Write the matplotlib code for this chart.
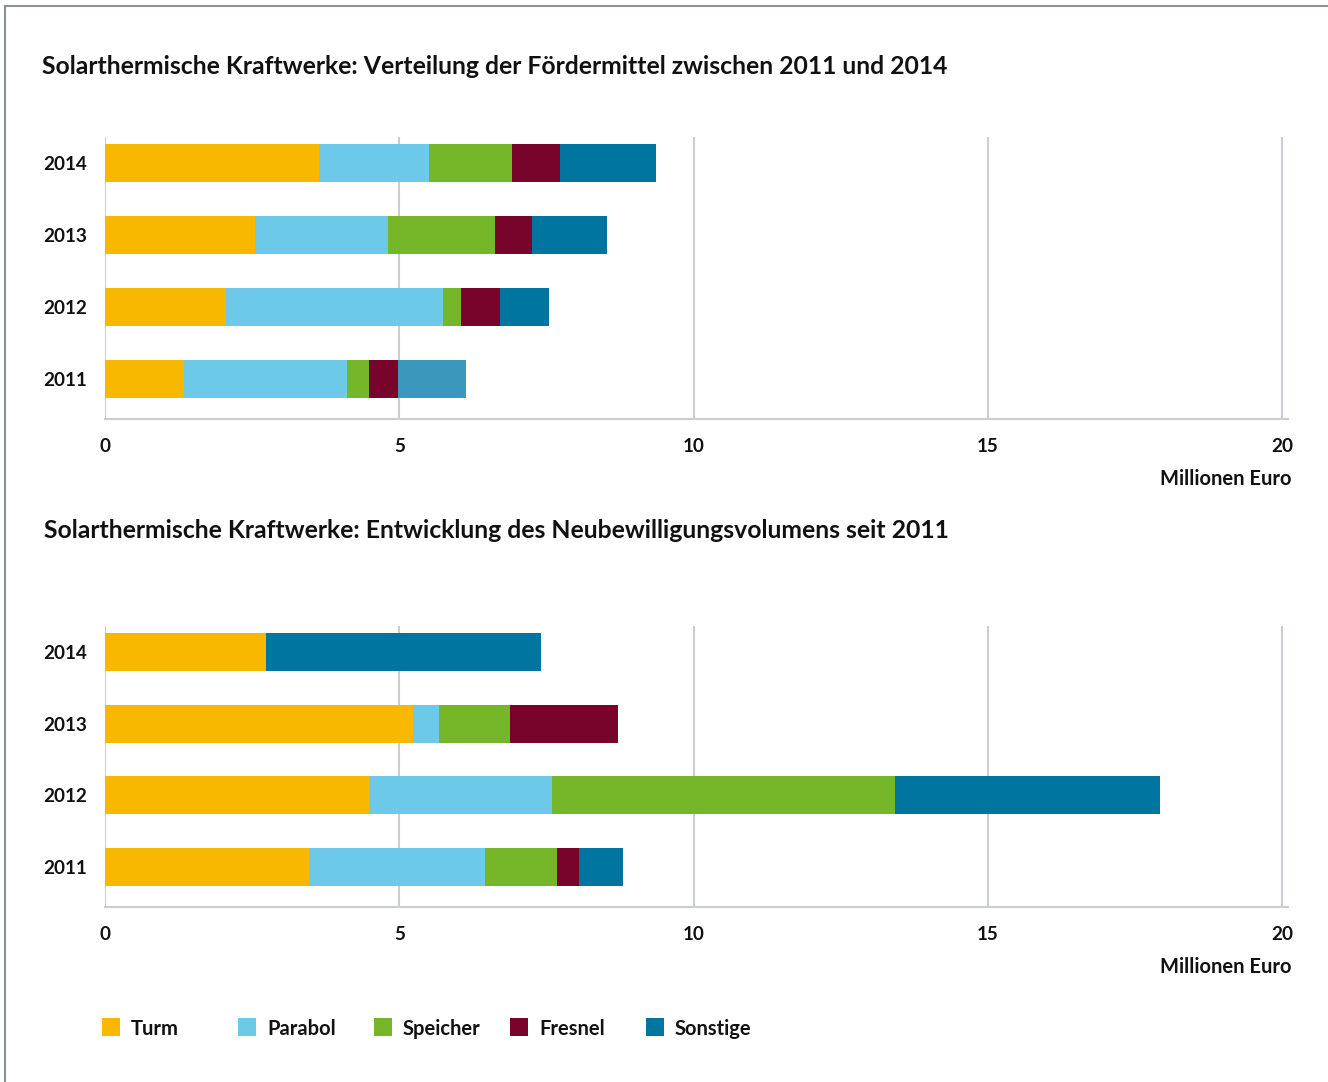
import matplotlib
matplotlib.use("Agg")
import matplotlib.pyplot as plt
import matplotlib.patches as mpatches
from matplotlib import font_manager as fm
import numpy as np

years = ["2011", "2012", "2013", "2014"]
categories = ["Turm", "Parabol", "Speicher", "Fresnel", "Sonstige"]
colors = ["#F9B800", "#6DC9E8", "#76B72A", "#78042B", "#00759F"]

# Verteilung der Fördermittel (Mio. Euro), per year 2011..2014
foerder_turm = [1.34, 2.06, 2.55, 3.64]
foerder_parabol = [2.77, 3.68, 2.26, 1.87]
foerder_speicher = [0.38, 0.31, 1.82, 1.41]
foerder_fresnel = [0.49, 0.66, 0.63, 0.81]
foerder_sonstige = [1.15, 0.83, 1.27, 1.63]

# Neubewilligungsvolumen (Mio. Euro)
neu_turm = [3.47, 4.49, 5.23, 2.74]
neu_parabol = [2.99, 3.11, 0.45, 0.0]
neu_speicher = [1.22, 5.82, 1.20, 0.0]
neu_fresnel = [0.37, 0.0, 1.84, 0.0]
neu_sonstige = [0.75, 4.51, 0.0, 4.67]


# pick a static bold file directly (variable fonts ignore weight)
def bold_font():
    for fam in ["Lato", "Open Sans", "Roboto", "Liberation Sans"]:
        for f in fm.fontManager.ttflist:
            if f.name == fam and f.weight == 700 and f.style == "normal" and "[" not in f.fname:
                return f.fname
    return None


BOLD = bold_font()


def fp(size):
    if BOLD:
        return fm.FontProperties(fname=BOLD, size=size)
    return fm.FontProperties(family="DejaVu Sans", weight="bold", size=size)


W, H = 1328, 1082
fig = plt.figure(figsize=(W / 100, H / 100), dpi=100)
grid_c = "#c9ced3"
tc = "#111111"


def draw(ax_rect, series, special=None):
    ax = fig.add_axes(ax_rect)
    y = np.arange(len(years))
    left = np.zeros(len(years))
    for k, (vals, c) in enumerate(zip(series, colors)):
        cols = [c] * len(years)
        if special and k in special:
            for i, cc in special[k].items():
                cols[i] = cc
        ax.barh(y, vals, left=left, height=0.53, color=cols, linewidth=0, zorder=3)
        left += np.array(vals)
    ax.set_xlim(0, 20.1)
    ax.set_ylim(-0.556, 3.361)
    ax.set_xticks([0, 5, 10, 15, 20])
    ax.set_yticks(y)
    ax.set_yticklabels(years)
    ax.grid(axis="x", color=grid_c, linewidth=1.5, zorder=0)
    for s in ["top", "right", "left"]:
        ax.spines[s].set_visible(False)
    ax.spines["bottom"].set_color(grid_c)
    ax.spines["bottom"].set_linewidth(1.5)
    ax.tick_params(length=0, colors=tc)
    ax.tick_params(axis="x", pad=14)
    ax.tick_params(axis="y", pad=13)
    for lab in ax.get_xticklabels() + ax.get_yticklabels():
        lab.set_fontproperties(fp(13.6))
    return ax


def rect(top_px, bottom_px):
    l = 105 / W
    w = (1288 - 105) / W
    b = 1 - bottom_px / H
    h = (bottom_px - top_px) / H
    return [l, b, w, h]


draw(rect(137, 419),
     [foerder_turm, foerder_parabol, foerder_speicher, foerder_fresnel, foerder_sonstige],
     special={4: {0: "#3A98BD"}})
draw(rect(626, 907),
     [neu_turm, neu_parabol, neu_speicher, neu_fresnel, neu_sonstige])

fig.text(42 / W, 1 - 66 / H,
         "Solarthermische Kraftwerke: Verteilung der Fördermittel zwischen 2011 und 2014",
         fontproperties=fp(17.8), color=tc, va="center", ha="left")
fig.text(44 / W, 1 - 531 / H,
         "Solarthermische Kraftwerke: Entwicklung des Neubewilligungsvolumens seit 2011",
         fontproperties=fp(17.8), color=tc, va="center", ha="left")
fig.text(1291 / W, 1 - 479 / H, "Millionen Euro", fontproperties=fp(14.5),
         color=tc, ha="right", va="center")
fig.text(1291 / W, 1 - 967 / H, "Millionen Euro", fontproperties=fp(14.5),
         color=tc, ha="right", va="center")

# legend
for i, (name, c) in enumerate(zip(categories, colors)):
    x0 = 102 + i * 136
    fig.add_artist(mpatches.Rectangle((x0 / W, 1 - 1036 / H), 18 / W, 18 / H,
                                      transform=fig.transFigure, color=c, lw=0))
    fig.text((x0 + 29) / W, 1 - 1029 / H, name, fontproperties=fp(14.5),
             color=tc, ha="left", va="center")

# frame (top and left edges)
fig.add_artist(plt.Line2D([5 / W, 1.0], [1 - 6 / H, 1 - 6 / H],
                          transform=fig.transFigure, color="#8a9296", lw=1.5))
fig.add_artist(plt.Line2D([5 / W, 5 / W], [0, 1 - 6 / H],
                          transform=fig.transFigure, color="#8a9296", lw=1.5))

fig.savefig("out.png", dpi=100)
